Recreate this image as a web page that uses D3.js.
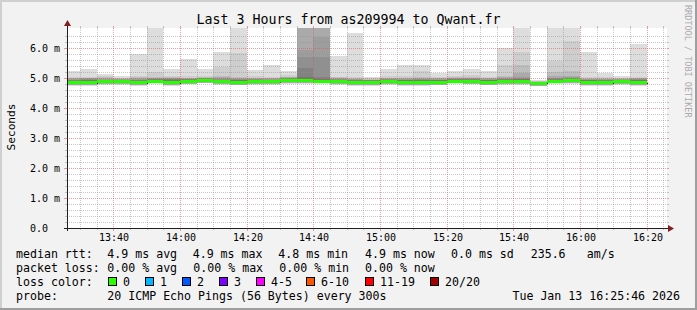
<!DOCTYPE html>
<html>
<head>
<meta charset="utf-8">
<script src="https://d3js.org/d3.v7.min.js"></script>
<style>
body { margin:0; background:#f2f2f2; }
svg text { font-family: "DejaVu Sans Mono", monospace; fill:#000; }
</style>
</head>
<body>
<svg id="chart" width="697" height="310"></svg>
<script>

// start of every 5 minute step (300s) shown in the graph
var stepStarts = ["13:25","13:30","13:35","13:40","13:45","13:50","13:55",
                  "14:00","14:05","14:10","14:15","14:20","14:25","14:30","14:35","14:40","14:45","14:50","14:55",
                  "15:00","15:05","15:10","15:15","15:20","15:25","15:30","15:35","15:40","15:45","15:50","15:55",
                  "16:00","16:05","16:10","16:15"];

// median rtt per step, ms
var median  = [4.84,4.84,4.87,4.87,4.85,4.90,4.84,4.89,4.92,4.87,4.86,4.88,4.87,4.91,4.91,4.90,4.88,4.85,4.84,4.87,4.85,4.85,4.86,4.90,4.89,4.86,4.88,4.88,4.83,4.90,4.91,4.85,4.85,4.88,4.85];

// sorted pings (smoke), ms - highest ones
var ping20 = [5.22,5.29,5.13,5.06,5.79,7.20,5.31,5.65,5.31,5.86,7.40,5.28,5.45,5.22,7.90,7.80,5.73,6.49,5.03,5.31,5.45,5.42,5.16,5.22,5.30,5.22,5.99,7.10,4.92,7.30,7.50,5.86,5.16,5.06,6.12];
var ping19 = [5.05,5.03,5.06,5.01,5.08,5.19,5.08,5.08,5.08,5.36,5.82,5.06,5.05,5.10,7.50,7.40,5.05,5.03,4.99,5.08,5.06,5.25,5.05,5.08,5.10,5.05,5.42,5.88,4.90,5.56,6.22,5.02,5.02,5.01,5.04];
var ping18 = [5.01,5.01,5.02,4.99,5.03,5.03,5.02,5.01,5.03,5.08,5.03,5.01,5.01,5.04,7.10,7.00,5.02,5.00,4.97,5.01,5.01,5.02,5.01,5.03,5.04,5.01,5.08,5.42,4.89,5.19,5.22,5.00,5.00,4.99,5.01];
var ping17 = [4.99,5.00,4.99,4.97,5.00,5.01,5.00,4.99,5.01,5.02,5.00,4.99,4.99,5.02,6.90,6.80,5.00,4.98,4.95,4.99,4.99,5.00,4.99,5.01,5.01,4.99,5.03,5.16,4.88,5.06,5.06,4.98,4.98,4.97,4.99];
var ping16 = [4.97,4.99,4.97,4.96,4.97,4.99,4.99,4.98,5.00,4.99,4.98,4.97,4.97,5.00,5.92,6.36,4.98,4.96,4.94,4.97,4.97,4.98,4.97,4.99,4.99,4.97,5.00,5.02,4.87,5.01,5.02,4.96,4.96,4.96,4.97];
var ping15 = [4.95,4.97,4.95,4.95,4.95,4.98,4.98,4.97,4.99,4.97,4.96,4.96,4.95,4.99,5.69,5.69,4.97,4.94,4.93,4.96,4.95,4.96,4.95,4.98,4.98,4.95,4.98,5.00,4.86,4.99,5.00,4.95,4.94,4.95,4.96];
var ping14 = [4.93,4.95,4.94,4.94,4.93,4.97,4.96,4.96,4.98,4.95,4.94,4.94,4.94,4.98,5.33,5.03,4.95,4.93,4.92,4.95,4.93,4.94,4.94,4.96,4.96,4.93,4.96,4.98,4.85,4.97,4.98,4.93,4.92,4.94,4.94];
var ping13 = [4.91,4.93,4.93,4.93,4.91,4.95,4.94,4.95,4.97,4.93,4.92,4.93,4.92,4.97,5.03,4.98,4.93,4.91,4.91,4.93,4.92,4.92,4.92,4.95,4.95,4.92,4.94,4.96,4.84,4.95,4.96,4.92,4.91,4.93,4.92];
// lowest pings
var pingLow = [4.76,4.76,4.79,4.79,4.77,4.82,4.76,4.81,4.84,4.79,4.78,4.80,4.79,4.83,4.83,4.82,4.80,4.77,4.76,4.79,4.77,4.77,4.78,4.82,4.81,4.78,4.80,4.80,4.75,4.82,4.83,4.77,4.77,4.80,4.77];
var pingMin = [4.74,4.73,4.77,4.77,4.75,4.80,4.74,4.79,4.82,4.77,4.76,4.78,4.77,4.81,4.81,4.80,4.78,4.75,4.74,4.77,4.75,4.75,4.76,4.80,4.79,4.76,4.78,4.78,4.73,4.80,4.81,4.75,4.75,4.78,4.75];

var yTickValues = [0,1,2,3,4,5,6];
var yTickLabels = ["0.0","1.0 m","2.0 m","3.0 m","4.0 m","5.0 m","6.0 m"];

var lossLabels = ["0","1","2","3","4-5","6-10","11-19","20/20"];
var lossColors = ["#26ff00","#00b8ff","#0059ff","#7e00ff","#ff00ff","#ff5500","#ff0000","#a10000"];

var W = 697, H = 310;
var X0 = 67, X1 = 667, Y0 = 228, Y1 = 28;

var parseT = d3.timeParse("%Y-%m-%d %H:%M:%S");
var tStart = parseT("2026-01-13 13:25:46"),
    tEnd   = parseT("2026-01-13 16:25:46");
var t0 = stepStarts.map(function(s){ return parseT("2026-01-13 " + s + ":00"); });
var t1 = t0.map(function(t){ return d3.timeMinute.offset(t, 5); });

var x = d3.scaleTime().domain([tStart, tEnd]).range([X0 - 1, X1 - 1]);
var y = d3.scaleLinear().domain([0, 6.6667]).range([Y0, Y1]);

var svg = d3.select("#chart");

//background and shaded frame
svg.append("rect").attr("width", W).attr("height", H).attr("fill", "#f2f2f2");
svg.append("rect").attr("x", 0).attr("y", 0).attr("width", W).attr("height", 2).attr("fill", "#cfcfcf");
svg.append("rect").attr("x", 0).attr("y", 0).attr("width", 2).attr("height", H).attr("fill", "#cfcfcf");
svg.append("rect").attr("x", 0).attr("y", H - 2).attr("width", W).attr("height", 2).attr("fill", "#9e9e9e");
svg.append("rect").attr("x", W - 2).attr("y", 0).attr("width", 2).attr("height", H).attr("fill", "#9e9e9e");

svg.append("rect").attr("x", X0).attr("y", Y1).attr("width", X1 - X0).attr("height", Y0 - Y1).attr("fill", "#ffffff");

svg.append("clipPath").attr("id", "plotclip")
   .append("rect").attr("x", X0).attr("y", Y1).attr("width", X1 - X0).attr("height", Y0 - Y1);

var plot = svg.append("g").attr("clip-path", "url(#plotclip)").attr("shape-rendering", "crispEdges");

//smoke: outer band lightest, inner darker
var bandTops = [ping20, ping19, ping18, ping17, ping16, ping15, ping14, ping13];
var bandColors = ["#dddddd","#cecece","#bebebe","#aaaaaa","#9d9d9d","#909090","#828282","#777777"];
var idx = d3.range(stepStarts.length);

bandTops.forEach(function(tops, k){
	var lows = k == 0 ? pingMin : (k < 4 ? pingLow : median);
	plot.append("g").selectAll("rect").data(idx).join("rect")
		.attr("x", function(i){ return Math.round(x(t0[i])); })
		.attr("width", function(i){ return Math.round(x(t1[i])) - Math.round(x(t0[i])); })
		.attr("y", function(i){ return Math.round(y(tops[i])); })
		.attr("height", function(i){ return Math.max(0, Math.round(y(lows[i])) - Math.round(y(tops[i]))); })
		.attr("fill", bandColors[k]);
});

//median line
var medPts = idx.map(function(i){ return [t0[i], median[i]]; });
medPts.push([t1[idx.length - 1], median[idx.length - 1]]);
plot.append("path")
	.attr("d", d3.line().curve(d3.curveStepAfter)
		.x(function(d){ return Math.round(x(d[0])) + 0.5; })
		.y(function(d){ return Math.round(y(d[1])) + 0.5; })(medPts))
	.attr("fill", "none").attr("stroke", "#202020").attr("stroke-width", 1);

// loss coloured median band (no loss -> green)
var medHalf = 0.05;
plot.append("g").selectAll("rect").data(idx).join("rect")
	.attr("x", function(i){ return Math.round(x(t0[i])); })
	.attr("width", function(i){ return Math.round(x(t1[i])) - Math.round(x(t0[i])); })
	.attr("y", function(i){ return Math.round(y(median[i] + medHalf)); })
	.attr("height", function(i){ return Math.round(y(median[i] - medHalf)) - Math.round(y(median[i] + medHalf)); })
	.attr("fill", lossColors[0]);

//grid
var grid = svg.append("g").attr("shape-rendering", "crispEdges");
var minorCol = "rgba(143,143,143,0.5)", majorCol = "rgba(222,79,79,0.55)";

var vTimes = d3.timeMinute.every(5).range(tStart, tEnd);
vTimes.forEach(function(t){
	var major = t.getMinutes() % 20 == 0;
	var px = Math.round(x(t)) + 0.5;
	var col = major ? majorCol : minorCol;
	grid.append("line").attr("x1", px).attr("x2", px).attr("y1", Y1).attr("y2", Y0)
		.attr("stroke", col).attr("stroke-dasharray", "1,1");
	grid.append("line").attr("x1", px).attr("x2", px).attr("y1", Y1 - 2).attr("y2", Y1).attr("stroke", col);
	grid.append("line").attr("x1", px).attr("x2", px).attr("y1", Y0).attr("y2", Y0 + (major ? 3 : 2)).attr("stroke", col);
});

d3.range(0.2, 6.6, 0.2).forEach(function(v){
	var major = Math.abs(v - Math.round(v)) < 0.01;
	var py = Math.round(y(v)) + 0.5;
	var col = major ? majorCol : minorCol;
	grid.append("line").attr("x1", X0).attr("x2", X1).attr("y1", py).attr("y2", py)
		.attr("stroke", col).attr("stroke-dasharray", "1,1");
	grid.append("line").attr("x1", X0 - (major ? 3 : 2)).attr("x2", X0).attr("y1", py).attr("y2", py).attr("stroke", col);
	grid.append("line").attr("x1", X1).attr("x2", X1 + 2).attr("y1", py).attr("y2", py).attr("stroke", col);
});

//axes + arrows
svg.append("line").attr("x1", X0 - 3).attr("x2", X1 + 3).attr("y1", Y0 + 0.5).attr("y2", Y0 + 0.5)
	.attr("stroke", "#1f1f1f").attr("shape-rendering", "crispEdges");
svg.append("line").attr("x1", X0 + 0.5).attr("x2", X0 + 0.5).attr("y1", Y0 + 3).attr("y2", Y1 - 3)
	.attr("stroke", "#1f1f1f").attr("shape-rendering", "crispEdges");
svg.append("path").attr("d", "M" + (X1 + 1) + "," + (Y0 - 3) + "L" + (X1 + 7) + "," + (Y0 + 0.5) + "L" + (X1 + 1) + "," + (Y0 + 4) + "Z")
	.attr("fill", "#801f1f");
svg.append("path").attr("d", "M" + (X0 - 3) + "," + (Y1 - 2) + "L" + (X0 + 0.5) + "," + (Y1 - 8) + "L" + (X0 + 4) + "," + (Y1 - 2) + "Z")
	.attr("fill", "#801f1f");

//tick labels
svg.append("g").selectAll("text").data(yTickValues).join("text")
	.attr("x", 30).attr("y", function(d){ return Math.round(y(d)) + 4; })
	.style("font-size", "10px")
	.text(function(d, i){ return yTickLabels[i]; });

var xFmt = d3.timeFormat("%H:%M");
svg.append("g").selectAll("text").data(d3.timeMinute.every(20).range(tStart, tEnd)).join("text")
	.attr("x", function(d){ return Math.round(x(d)) + 1; }).attr("y", 241)
	.attr("text-anchor", "middle").style("font-size", "10px")
	.text(xFmt);

//titles
svg.append("text").attr("x", 348.5).attr("y", 24).attr("text-anchor", "middle")
	.style("font-size", "13.3px").text("Last 3 Hours from as209994 to Qwant.fr");
svg.append("text").attr("transform", "translate(15,127) rotate(-90)").attr("text-anchor", "middle")
	.style("font-size", "11.2px").text("Seconds");
svg.append("text").attr("transform", "translate(685,5) rotate(90)")
	.style("font-size", "8.5px").style("fill", "#aaaaaa").text("RRDTOOL / TOBI OETIKER");

//legend
var leg = svg.append("g").style("font-size", "11.6px");
function put(tx, px, py){ leg.append("text").attr("x", px).attr("y", py).text(tx); }

put("median rtt:", 16, 258);
put("4.9 ms avg", 107.3, 258);
put("4.9 ms max", 192.7, 258);
put("4.8 ms min", 278.3, 258);
put("4.9 ms now", 365, 258);
put("0.0 ms sd", 451, 258);
put("235.6", 530.7, 258);
put("am/s", 586.7, 258);

put("packet loss:", 16, 272);
put("0.00 % avg", 107.3, 272);
put("0.00 % max", 193.3, 272);
put("0.00 % min", 279.3, 272);
put("0.00 % now", 365, 272);

put("loss color:", 16, 286);
var boxX = [108, 145, 182, 219, 256, 306, 365, 430];
lossLabels.forEach(function(l, i){
	leg.append("rect").attr("x", boxX[i] + 0.5).attr("y", 277.5).attr("width", 8).attr("height", 8)
		.attr("fill", lossColors[i]).attr("stroke", "#000").attr("shape-rendering", "crispEdges");
	put(l, boxX[i] + 15, 286);
});

put("probe:", 16, 300);
put("20 ICMP Echo Pings (56 Bytes) every 300s", 107.3, 300);
leg.append("text").attr("x", 680).attr("y", 300).attr("text-anchor", "end").text("Tue Jan 13 16:25:46 2026");

</script>
</body>
</html>
